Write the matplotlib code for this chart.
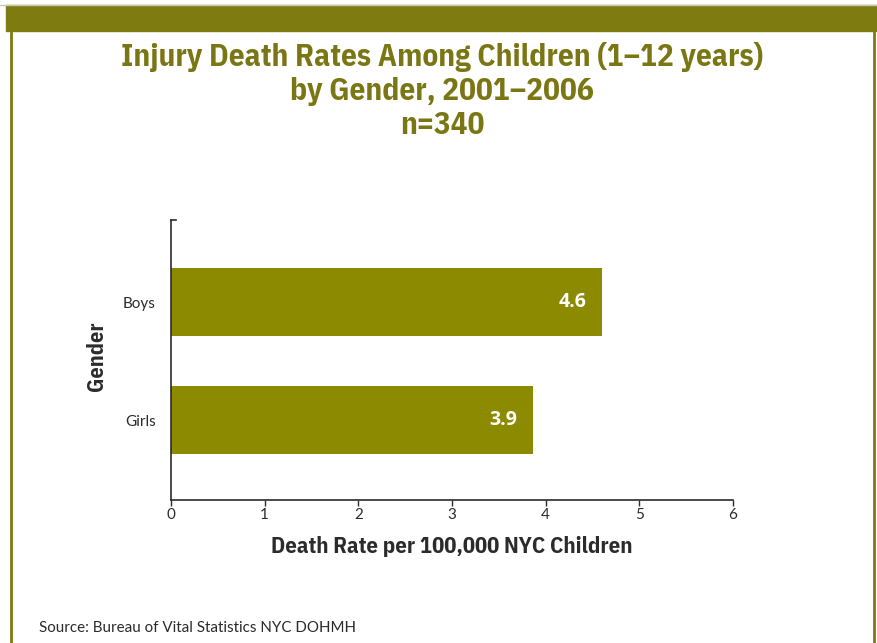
import matplotlib.pyplot as plt
from matplotlib.patches import Rectangle
from matplotlib.lines import Line2D

# Injury death rates per 100,000 children aged 1-12, NYC 2001-2006
genders = ["Girls", "Boys"]
rates = [3.86, 4.6]
x_ticks = [0, 1, 2, 3, 4, 5, 6]

olive = "#7E7B10"
bar_color = "#8C8A00"
title_color = "#7A7613"
text_dark = "#2b2b2b"
narrow = ["IBM Plex Sans Condensed", "DejaVu Sans"]
plain = ["Lato", "DejaVu Sans"]

W, H = 877, 643
fig = plt.figure(figsize=(W / 100, H / 100), dpi=100)

# page frame: banner across the top, thin rules down both sides
fig.patches.append(Rectangle((6 / W, 1 - 31 / H), 1 - 6 / W, 26 / H,
                             transform=fig.transFigure, color=olive, zorder=0))
fig.lines.append(Line2D([0, 1], [1 - 4.5 / H] * 2, transform=fig.transFigure,
                        color="#c8c8b8", lw=1))
for xpix in (10.5, 873.5):
    fig.lines.append(Line2D([xpix / W] * 2, [0, 1 - 31 / H], transform=fig.transFigure,
                            color=olive, lw=2))

title_lines = ["Injury Death Rates Among Children (1\u201312 years)",
               "by Gender, 2001\u20132006", "n=340"]
for ypix, line in zip((57, 91, 125), title_lines):
    fig.text(442 / W, 1 - ypix / H, line, ha="center", va="center", fontsize=22.5,
             fontweight="bold", family=narrow, color=title_color)

ax = fig.add_axes([171 / W, 143 / H, 562 / W, 280 / H])
ypos = list(range(len(genders)))
ax.barh(ypos, rates, height=0.576, color=bar_color)
for y, v in zip(ypos, rates):
    ax.text(v - 0.16, y, f"{v:.1f}", ha="right", va="center", color="white",
            fontsize=14, fontweight="bold", family=["Open Sans", "DejaVu Sans"])

ax.set_xlim(0, 6)
ax.set_ylim(-0.678, 1.695)
ax.set_xticks(x_ticks)
ax.set_yticks(ypos)
ax.set_yticklabels(genders, family=plain)
ax.set_xticklabels([str(t) for t in x_ticks], family=plain)
ax.tick_params(axis="y", length=0, pad=11, labelsize=11, labelcolor=text_dark)
ax.tick_params(axis="x", length=4, width=1, direction="out", pad=2,
               labelsize=11, labelcolor=text_dark, color=text_dark)
for s in ("top", "right"):
    ax.spines[s].set_visible(False)
for s in ("left", "bottom"):
    ax.spines[s].set_color(text_dark)
    ax.spines[s].set_linewidth(1.2)
# small cap tick at the top of the value axis
ax.plot([0, 0.05], [1.695, 1.695], color=text_dark, lw=1.2, clip_on=False)

ax.set_xlabel("Death Rate per 100,000 NYC Children", fontsize=16.3, fontweight="bold",
              family=narrow, color=text_dark, labelpad=10)
fig.text(96 / W, 1 - 356 / H, "Gender", rotation=90, ha="center", va="center",
         fontsize=16, fontweight="bold", family=narrow, color=text_dark)

fig.text(39 / W, 1 - 628 / H, "Source: Bureau of Vital Statistics NYC DOHMH",
         ha="left", va="center", fontsize=10.9, family=plain, color=text_dark)

fig.savefig("out.png", dpi=100)
